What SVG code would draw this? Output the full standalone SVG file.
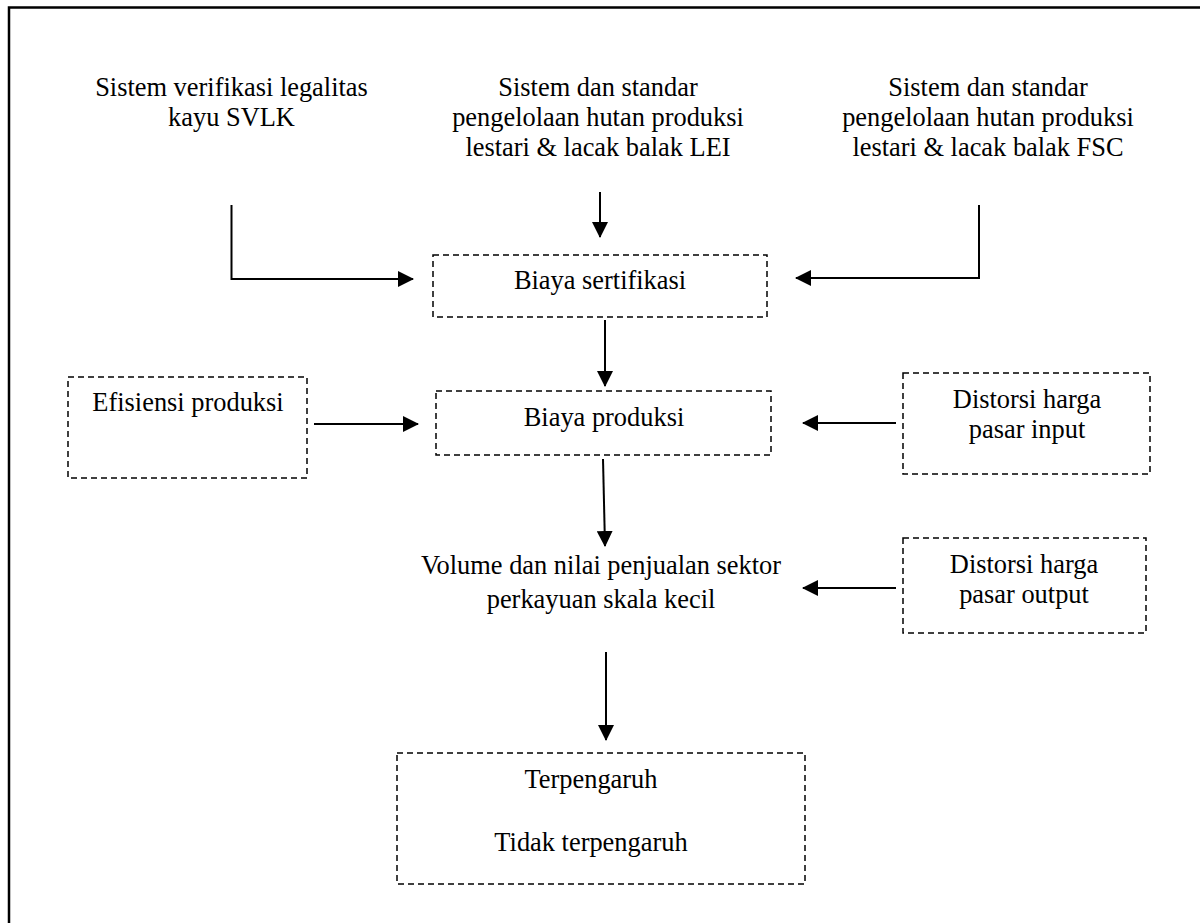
<svg xmlns="http://www.w3.org/2000/svg" width="1200" height="923" viewBox="0 0 1200 923" font-family="'Liberation Serif', Tinos, 'Times New Roman', 'DejaVu Serif', serif">
<defs>
<marker id="arr" markerUnits="userSpaceOnUse" markerWidth="16" markerHeight="16" refX="15" refY="8" orient="auto">
<path d="M0,0 L16,8 L0,16 z" fill="#000"/>
</marker>
<style>
text{font-family:'Liberation Serif',Tinos,'Times New Roman','DejaVu Serif',serif;font-size:26.4px;fill:#000;text-anchor:middle}
.box{fill:none;stroke:#000;stroke-width:1.5;stroke-dasharray:6 4}
.c{fill:none;stroke:#000;stroke-width:2}
</style>
</defs>
<rect width="1200" height="923" fill="#fff"/>
<path d="M9,923 V7.5 H1200" fill="none" stroke="#000" stroke-width="2.5"/>
<g id="svlk"><text x="231.5" y="96">Sistem verifikasi legalitas</text><text x="231.5" y="126">kayu SVLK</text></g>
<g id="lei"><text x="598" y="96">Sistem dan standar</text><text x="598" y="126">pengelolaan hutan produksi</text><text x="598" y="156">lestari &amp; lacak balak LEI</text></g>
<g id="fsc"><text x="988" y="96">Sistem dan standar</text><text x="988" y="126">pengelolaan hutan produksi</text><text x="988" y="156">lestari &amp; lacak balak FSC</text></g>
<g id="biaya-sertifikasi"><rect class="box" x="433" y="255" width="334" height="62"/><text x="600" y="289">Biaya sertifikasi</text></g>
<g id="efisiensi"><rect class="box" x="68" y="377" width="239" height="101"/><text x="188" y="411">Efisiensi produksi</text></g>
<g id="biaya-produksi"><rect class="box" x="436" y="391" width="335" height="64"/><text x="604" y="426">Biaya produksi</text></g>
<g id="distorsi-input"><rect class="box" x="903" y="373" width="247" height="101"/><text x="1027" y="408">Distorsi harga</text><text x="1027" y="438">pasar input</text></g>
<g id="volume"><text x="601" y="574">Volume dan nilai penjualan sektor</text><text x="601" y="608">perkayuan skala kecil</text></g>
<g id="distorsi-output"><rect class="box" x="903" y="538" width="243" height="95"/><text x="1024" y="573">Distorsi harga</text><text x="1024" y="603">pasar output</text></g>
<g id="hasil"><rect class="box" x="397" y="753" width="408" height="131"/><text x="591" y="788">Terpengaruh</text><text x="591" y="851">Tidak terpengaruh</text></g>
<g id="connectors">
<path class="c" d="M231.5,205 V279 H413" marker-end="url(#arr)"/>
<path class="c" d="M600,192 V237" marker-end="url(#arr)"/>
<path class="c" d="M979,205 V278 H796" marker-end="url(#arr)"/>
<path class="c" d="M605,320 V386" marker-end="url(#arr)"/>
<path class="c" d="M314,424 H418" marker-end="url(#arr)"/>
<path class="c" d="M896,423 H803" marker-end="url(#arr)"/>
<path class="c" d="M603,459 L605,546" marker-end="url(#arr)"/>
<path class="c" d="M896,588 H803" marker-end="url(#arr)"/>
<path class="c" d="M606,652 V740" marker-end="url(#arr)"/>
</g>
</svg>
